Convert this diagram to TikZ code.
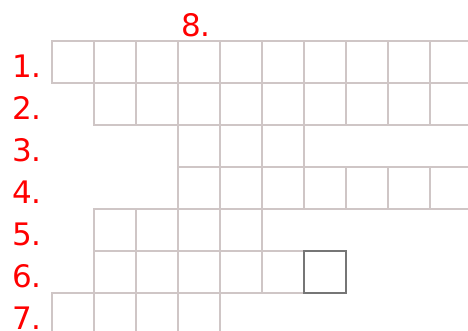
\documentclass[tikz,border=0pt]{standalone}
\usepackage{fontspec}
\setmainfont{DejaVu Sans}
\definecolor{gridline}{HTML}{CFC6C6}
\definecolor{markline}{HTML}{767676}
\definecolor{numred}{HTML}{FF0000}

\begin{document}
\begin{tikzpicture}[
  x=1pt,y=-1pt,
  cell/.style={draw=gridline,line width=2.5pt,minimum size=42pt,inner sep=0pt,outer sep=0pt},
  active/.style={cell,draw=markline,line width=2pt},
  num/.style={text=numred,font=\fontsize{31}{31}\selectfont,inner sep=0pt}
]
\useasboundingbox (0,0) rectangle (468,330);

% Rows of the crossword: row / columns
\foreach \r/\cols in {1/{0,1,...,9},2/{1,2,...,9},3/{3,4,5},4/{3,4,...,9},
                      5/{1,2,3,4},6/{1,2,...,5},7/{0,1,2,3}}{
  \foreach \c in \cols
    \node[cell] (c\r-\c) at ({73+42*\c},{62+42*(\r-1)}) {};
}
\node[active] (c6-6) at ({73+42*6},{62+42*5}) {};

% Row numbers
\foreach \r in {1,...,7}
  \node[num] (n\r) at (27,{66+42*(\r-1)}) {\r.};

% Column number
\node[num] (n8) at (196,25) {8.};

\end{tikzpicture}
\end{document}
